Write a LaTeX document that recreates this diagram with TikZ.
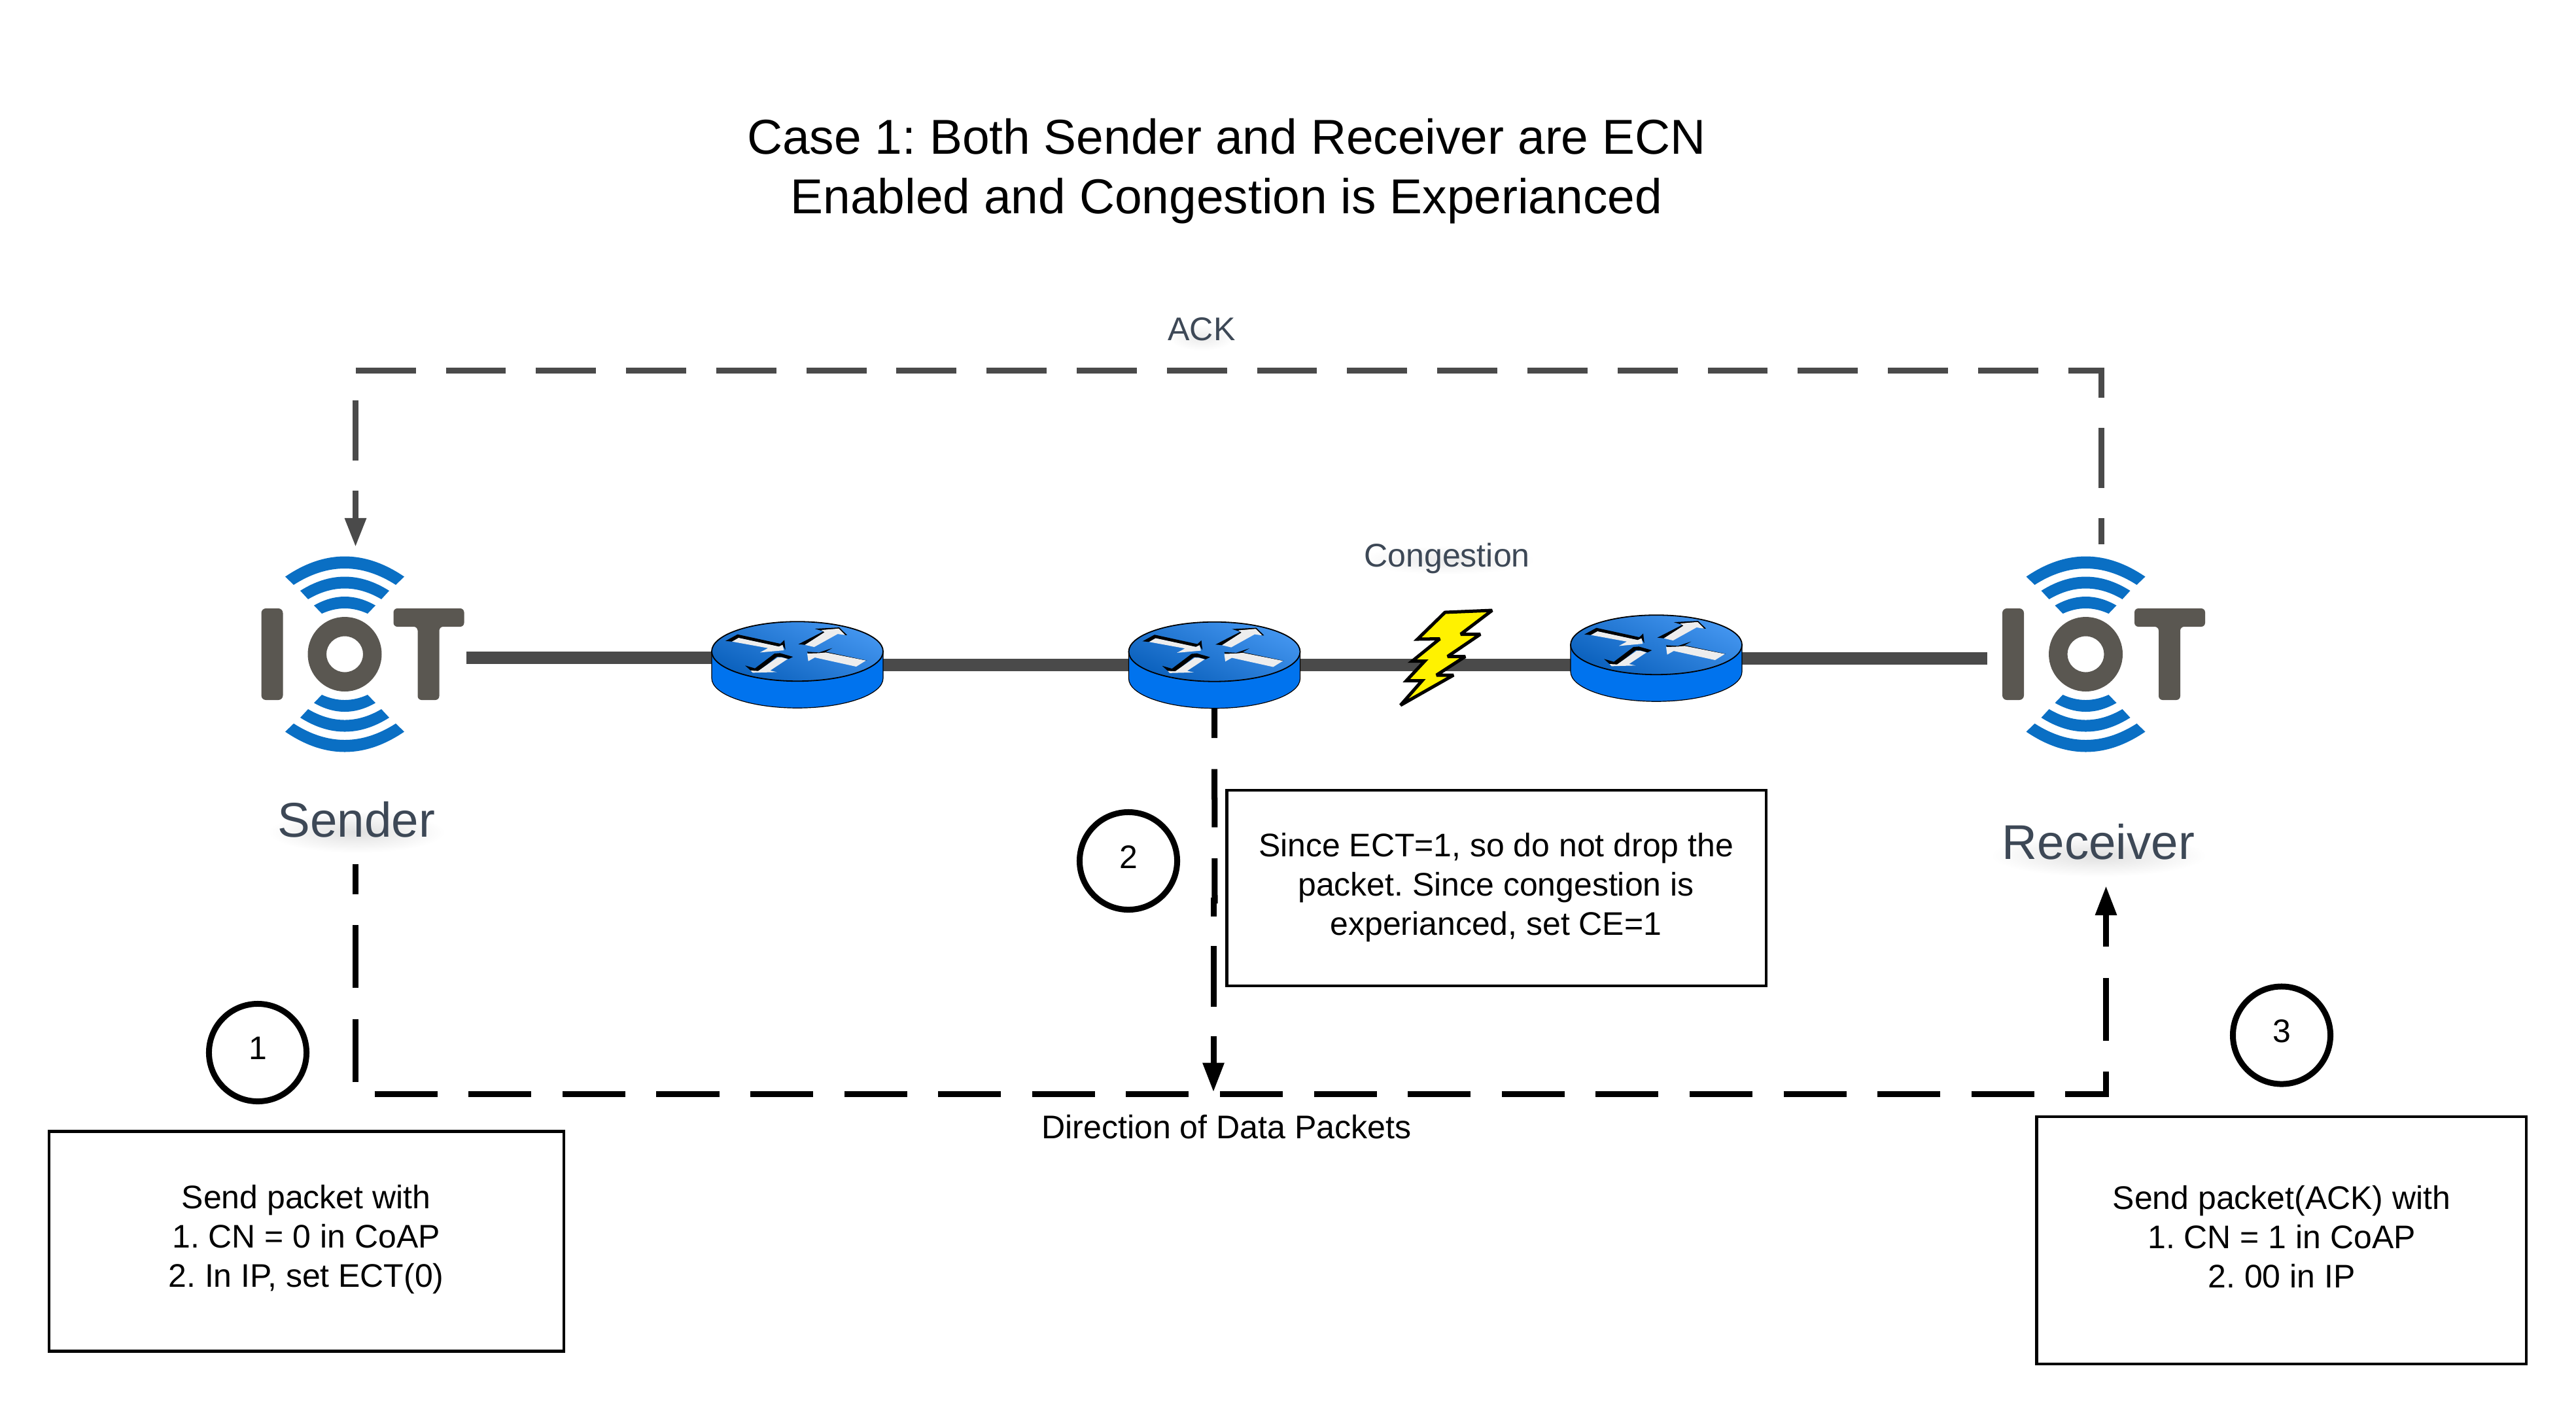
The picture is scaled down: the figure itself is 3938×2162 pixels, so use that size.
\documentclass[tikz,border=0pt]{standalone}
\usepackage{fontspec}
\setmainfont{Liberation Sans}
\usetikzlibrary{arrows.meta}
\definecolor{iotgrey}{HTML}{5A5751}
\definecolor{iotblue}{HTML}{0A6FC4}
\definecolor{lbl}{HTML}{3D4856}
\definecolor{wire}{HTML}{4A4A4A}
\definecolor{rside}{HTML}{0073EE}
\definecolor{rlight}{HTML}{4496F0}
\definecolor{rdark}{HTML}{0A60BC}
\tikzset{
  body/.style={font=\fontsize{14.2}{17.07}\selectfont\frenchspacing,align=center,inner sep=0pt,outer sep=0pt,text=black},
  ttl/.style={font=\fontsize{21.3}{25.9}\selectfont\frenchspacing,align=center,inner sep=0pt,text=black},
  biglbl/.style={font=\fontsize{21.2}{25}\selectfont,anchor=base,inner sep=0pt,text=lbl},
  smalllbl/.style={font=\fontsize{14.25}{17}\selectfont,anchor=base,inner sep=0pt,text=lbl},
  notebox/.style={draw=black,line width=0.045cm,inner sep=0pt,outer sep=0pt},
  stepcircle/.style={circle,draw=black,line width=0.09cm,minimum size=1.49cm,inner sep=0pt,outer sep=0pt},
  hidden/.style={inner sep=0pt,outer sep=0pt},
  solidwire/.style={draw=wire,line width=0.19cm},
  ackwire/.style={draw=wire,line width=0.09cm,dash pattern=on 0.918cm off 0.459cm,dash phase=0.515cm,-{Triangle[width=0.31cm,length=0.44cm,fill=wire]}},
  datawire/.style={draw=black,line width=0.09cm,-{Triangle[width=0.31cm,length=0.45cm]}},
}
\newcommand{\wavearc}[6]{% w c t w2 c2 t2
  \fill[iotblue] (-#1,#2) .. controls ({-#1/3},{#2+4/3*(#3-#2)}) and ({#1/3},{#2+4/3*(#3-#2)}) .. (#1,#2)
    -- (#4,#5) .. controls ({#4/3},{#5+4/3*(#6-#5)}) and ({-#4/3},{#5+4/3*(#6-#5)}) .. (-#4,#5) -- cycle;}
\newcommand{\iotlogo}[1]{%
  \begin{scope}[shift={(#1,1000)}]
    \fill[iotgrey,rounded corners=0.07cm] (-127.5,-70) rectangle (-94.5,70);
    \fill[iotgrey,even odd rule] (0,0) ellipse [x radius=56.5,y radius=57] (0,0) ellipse [x radius=28,y radius=27.5];
    \fill[iotgrey,rounded corners=0.06cm] (74.5,-70) -- (182.5,-70) -- (182.5,-42) -- (144.5,-42) -- (144.5,70) -- (111.5,70) -- (111.5,-42) -- (74.5,-42) -- cycle;
    \foreach \s in {1,-1}{
      \begin{scope}[yscale=\s]
        \wavearc{91}{-118.5}{-149.5}{78}{-106}{-131}
        \wavearc{68}{-97}{-118.5}{56}{-84}{-100.5}
        \wavearc{47}{-74.5}{-88}{35}{-62}{-70}
      \end{scope}}
  \end{scope}}
\newcommand{\routerdraw}[2]{%
  \begin{scope}[shift={(#1,#2)}]
    \filldraw[fill=rside,draw=black,line width=0.012cm] (-131,0) -- (-131,41) arc[start angle=180,end angle=0,x radius=131,y radius=45.5] -- (131,0) -- cycle;
    \path[left color=rlight,right color=rdark,shading angle=-25] (0,0) ellipse [x radius=131,y radius=45.5];
    \draw[black,line width=0.018cm] (0,0) ellipse [x radius=131,y radius=45.5];
    \begin{scope}[x=0.003333cm,y=-0.003333cm,shift={(-420,-170)}]
      \fill[black] (90,122) -- (145,92) -- (342,135) -- (360,118) -- (365,162) -- (350,140) -- (335,148) -- (150,108) -- (120,125) -- cycle;
      \fill[white!93!black] (120,125) -- (150,108) -- (335,148) -- (352,140) -- (358,165) -- (248,175) -- (285,155) -- cycle;
      \fill[black] (425,137) -- (540,78) -- (500,66) -- (612,60) -- (648,95) -- (635,95) -- (610,68) -- (530,72) -- (545,82) -- (455,140) -- cycle;
      \fill[white!93!black] (455,140) -- (545,82) -- (530,72) -- (610,65) -- (640,95) -- (605,90) -- (497,150) -- cycle;
      \fill[black] (180,235) -- (225,248) -- (315,180) -- (340,178) -- (400,195) -- (380,205) -- (345,195) -- (325,195) -- (240,262) -- (210,262) -- cycle;
      \fill[white!93!black] (330,197) -- (350,198) -- (375,205) -- (295,258) -- (325,265) -- (215,268) -- (205,258) -- (240,260) -- cycle;
      \fill[black] (465,172) -- (520,175) -- (580,155) -- (550,172) -- (740,212) -- (700,212) -- (550,178) -- (470,182) -- cycle;
      \fill[white!93!black] (465,180) -- (520,178) -- (550,175) -- (735,212) -- (690,240) -- (500,198) -- (470,215) -- cycle;
    \end{scope}
  \end{scope}}
\begin{document}
\begin{tikzpicture}[x=0.01cm,y=-0.01cm]
\useasboundingbox (0,0) rectangle (3938,2162);
\fill[white] (0,0) rectangle (3938,2162);
% invisible anchors for devices
\node[hidden,minimum width=3.13cm,minimum height=1cm] (sender) at (556.5,1005.5) {};
\node[hidden,minimum width=3.33cm,minimum height=1cm] (receiver) at (3204.5,1005.5) {};
\node[hidden,minimum width=2.62cm,minimum height=1.33cm] (r1) at (1219,1016.5) {};
\node[hidden,minimum width=2.62cm,minimum height=1.33cm] (r2) at (1856.5,1016.5) {};
\node[hidden,minimum width=2.62cm,minimum height=1.33cm] (r3) at (2532,1006) {};
% solid links
\draw[solidwire] (sender.east) -- (sender.east -| r1.west);
\draw[solidwire] (r1.east) -- (r2.west);
\draw[solidwire] (r2.east) -- (r2.east -| r3.west);
\draw[solidwire] (r3.east) -- (r3.east -| receiver.west);
% devices
\iotlogo{527}
\iotlogo{3188.5}
\routerdraw{1219}{995.7}
\routerdraw{1856.5}{996.2}
\routerdraw{2532}{985.7}
% lightning
\filldraw[fill=yellow,draw=black,line width=0.05cm,line join=miter,miter limit=3]
  (2209,936) -- (2281,933) -- (2233,969.5) -- (2263,969.5) -- (2213,1003.5) -- (2240,1003.5) -- (2196,1032) -- (2222,1032) -- (2141,1078) -- (2174,1040.5) -- (2150,1040.5) -- (2178,1010.5) -- (2159,1010.5) -- (2201,976.5) -- (2167,977) -- cycle;
% label shadows
\shade[inner color=black!12,outer color=white] (545,1272) ellipse [x radius=135,y radius=32];
\shade[inner color=black!12,outer color=white] (3208,1308) ellipse [x radius=165,y radius=32];
\shade[inner color=black!8,outer color=white] (1837,516) ellipse [x radius=50,y radius=20];
\shade[inner color=black!8,outer color=white] (2212,856) ellipse [x radius=135,y radius=22];
% labels
\node[ttl] (title) at (1875,262) {Case 1: Both Sender and Receiver are ECN\\Enabled and Congestion is Experianced};
\node[smalllbl] (acklabel) at (1837,520) {ACK};
\node[smalllbl] (conglabel) at (2212,866) {Congestion};
\node[biglbl] (sendlabel) at (545,1279) {Sender};
\node[biglbl] (recvlabel) at (3208,1313) {Receiver};
\node[smalllbl,text=black] (dirlabel) at (1875,1740) {Direction of Data Packets};
% ACK path
\coordinate (ackstart) at (3212,832);
\coordinate (acktip) at (543.5,836);
\draw[ackwire] (ackstart) -- (ackstart |- 0,566.5) -- (acktip |- 0,566.5) -- (acktip);
% Data path
\coordinate (datastart) at (543.5,1320.5);
\coordinate (dataend) at (3219.5,1354);
\draw[datawire,dash pattern=on 0.96cm off 0.475cm,dash phase=0.5cm] (datastart) -- (datastart |- 0,1672) -- (dataend |- 0,1672) -- (dataend);
% Router 2 drop
\coordinate (dropmidA) at (1857,1381);
\coordinate (dropmidB) at (1855,1372);
\coordinate (droptip) at (1855,1669.5);
\draw[draw=black,line width=0.09cm,dash pattern=on 0.89cm off 0.475cm,dash phase=0.44cm] (r2.south) -- (dropmidA);
\draw[datawire,dash pattern=on 0.93cm off 0.45cm,dash phase=0.64cm] (dropmidB) -- (droptip);
% step circles
\node[stepcircle] (c1) at (394,1609) {};
\node[stepcircle] (c2) at (1725,1316) {};
\node[stepcircle] (c3) at (3488,1582.5) {};
\node[body] (n1) at (394,1602) {1};
\node[body] (n2) at (1725,1310) {2};
\node[body] (n3) at (3488,1576) {3};
% note boxes
\node[notebox,minimum width=7.865cm,minimum height=3.355cm] (b1) at (468.5,1897.5) {};
\node[notebox,minimum width=7.48cm,minimum height=3.78cm] (b3) at (3487.5,1896) {};
\node[notebox,minimum width=8.24cm,minimum height=2.99cm] (b2) at (2287.5,1357.5) {};
\node[body] (t1) at (468,1895) {Send packet with\\1. CN = 0 in CoAP\\2. In IP, set ECT(0)};
\node[body] (t3) at (3488,1891) {Send packet(ACK) with\\1. CN = 1 in CoAP\\2. 00 in IP};
\node[body] (t2) at (2287,1356.5) {Since ECT=1, so do not drop the\\packet. Since congestion is\\experianced, set CE=1};
\end{tikzpicture}
\end{document}
